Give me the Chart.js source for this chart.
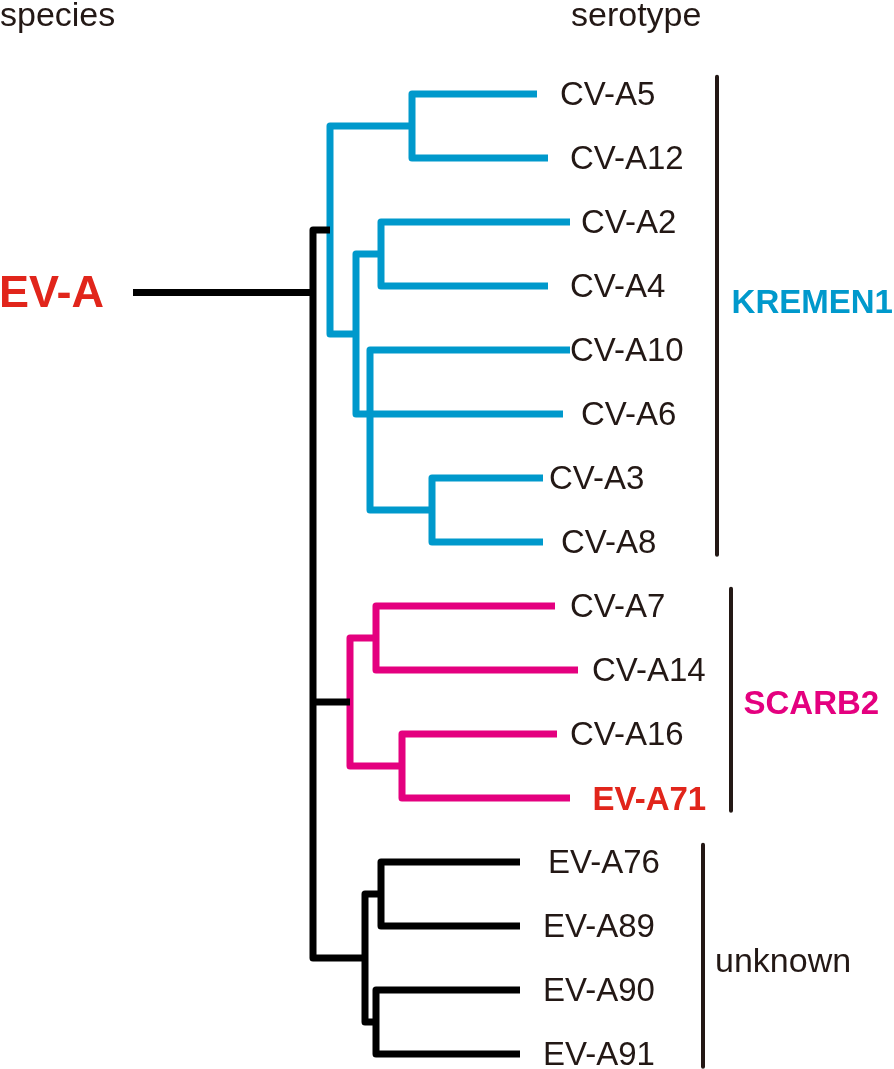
<!DOCTYPE html>
<html>
<head>
<meta charset="utf-8">
<script src="https://cdn.jsdelivr.net/npm/chart.js@4.4.1/dist/chart.umd.min.js"></script>
<style>
html, body { margin: 0; padding: 0; background: #fff; }
#wrap { width: 894px; height: 1069px; position: relative; }
</style>
</head>
<body>
<div id="wrap"><canvas id="tree"></canvas></div>
<script>
// serotypes, top to bottom (row = index)
const leaves = ['CV-A5', 'CV-A12', 'CV-A2', 'CV-A4', 'CV-A10', 'CV-A6', 'CV-A3', 'CV-A8',
                'CV-A7', 'CV-A14', 'CV-A16', 'EV-A71',
                'EV-A76', 'EV-A89', 'EV-A90', 'EV-A91'];
// tip distance from the EV-A root node
const tipDepth = [0.224, 0.235, 0.257, 0.235, 0.257, 0.250, 0.230, 0.230,
                  0.242, 0.265, 0.244, 0.257,
                  0.207, 0.207, 0.207, 0.207];

// internal nodes
const nodeNames = ['root', 'K', 'Ka', 'Kb', 'Kc', 'Kd', 'Ke', 'S', 'Sa', 'Sb', 'U', 'Ua', 'Ub'];
const nodeDepth = [0, 0.017, 0.099, 0.043, 0.068, 0.057, 0.119, 0.037, 0.063, 0.089, 0.052, 0.068, 0.063];
const nodeChildren = [
    ['K', 'S', 'U'],
    ['Ka', 'Kb'],
    ['CV-A5', 'CV-A12'],
    ['Kc', 'Kd'],
    ['CV-A2', 'CV-A4'],
    ['CV-A10', 'CV-A6', 'Ke'],
    ['CV-A3', 'CV-A8'],
    ['Sa', 'Sb'],
    ['CV-A7', 'CV-A14'],
    ['CV-A16', 'EV-A71'],
    ['Ua', 'Ub'],
    ['EV-A76', 'EV-A89'],
    ['EV-A90', 'EV-A91']
];
const stemDepth = -0.180;   // start of the EV-A stem

// receptor groups
const groups = ['KREMEN1', 'SCARB2', 'unknown'];
const groupFirst = [0, 8, 12];
const groupLast = [7, 11, 15];

// ---- layout / styles ----
const BLUE = '#0099cc', PINK = '#e4007f', RED = '#e1251b', INK = '#231815';
const branchColour = {r: '#000', K: BLUE, S: PINK, U: '#000'};
const stemRow = 3.1;
const labelGap = [23, 22, 11, 22, 0, 18, 6, 18, 15, 14, 13, 22.5, 28, 23, 23, 23];
const barDepth = [0.404, 0.418, 0.390];
const groupLabelGap = [14.6, 12.5, 12];
const groupLabelRow = [3.42, 9.69, 13.72];
const groupFont = ['bold 33px "Liberation Sans", Arial, sans-serif',
                   'bold 33px "Liberation Sans", Arial, sans-serif',
                   '34px "Liberation Sans", Arial, sans-serif'];
const groupColour = [BLUE, PINK, INK];
const FONT = '"Liberation Sans", Arial, sans-serif';
const BRANCH_W = 7;

//work out where every node sits
const pos = {};
leaves.forEach((n, i) => { pos[n] = {x: tipDepth[i], y: i}; });
function place(name) {
    if(pos[name]) return pos[name];
    const k = nodeNames.indexOf(name);
    const kids = nodeChildren[k].map(place);
    let y;
    if(name === 'root') {
        y = stemRow;
    } else if(kids.length === 2) {
        y = (kids[0].y + kids[1].y) / 2;
    } else {
        // polytomy: parent joins at the middle child
        y = kids[Math.floor(kids.length / 2)].y;
    }
    pos[name] = {x: nodeDepth[k], y: y};
    return pos[name];
}
place('root');

function lineSet(points, colour, width) {
    return {
        data: points,
        showLine: true,
        borderColor: colour,
        borderWidth: width,
        borderJoinStyle: 'round',
        borderCapStyle: 'butt',
        pointRadius: 0,
        pointHoverRadius: 0,
        fill: false
    };
}

const datasets = [];
nodeNames.forEach((name, k) => {
    const p = pos[name];
    const kids = nodeChildren[k].map(c => pos[c]);
    const col = branchColour[name[0]];
    const first = kids[0], last = kids[kids.length - 1];
    datasets.push(lineSet([
        {x: first.x, y: first.y}, {x: p.x, y: first.y},
        {x: p.x, y: last.y}, {x: last.x, y: last.y}
    ], col, BRANCH_W));
    for(let j = 1; j < kids.length - 1; ++j) {
        datasets.push(lineSet([{x: p.x, y: kids[j].y}, {x: kids[j].x, y: kids[j].y}], col, BRANCH_W));
    }
});
// EV-A stem
datasets.push(lineSet([{x: stemDepth, y: stemRow}, {x: pos.root.x, y: stemRow}], '#000', BRANCH_W));
// group bars
groups.forEach((g, i) => {
    datasets.push(lineSet([{x: barDepth[i], y: groupFirst[i] - 0.27},
                           {x: barDepth[i], y: groupLast[i] + 0.2}], INK, 4));
});

const textPlugin = {
    id: 'treeText',
    afterDraw(chart) {
        const ctx = chart.ctx, xs = chart.scales.x, ys = chart.scales.y;
        ctx.save();
        ctx.textBaseline = 'alphabetic';
        ctx.textAlign = 'left';

        ctx.fillStyle = INK;
        ctx.font = '34px ' + FONT;
        ctx.fillText('species', 0, 26);
        ctx.fillText('serotype', 571, 26);

        ctx.fillStyle = RED;
        ctx.font = 'bold 45px ' + FONT;
        ctx.fillText('EV-A', -1, ys.getPixelForValue(stemRow) + 15);

        leaves.forEach((n, i) => {
            const bold = n === 'EV-A71';
            ctx.fillStyle = bold ? RED : INK;
            ctx.font = (bold ? 'bold ' : '') + '33px ' + FONT;
            const x = xs.getPixelForValue(tipDepth[i]) + labelGap[i];
            const y = ys.getPixelForValue(i) + (bold ? 12 : 10.5);
            ctx.fillText(n, x, y);
        });

        groups.forEach((g, i) => {
            ctx.fillStyle = groupColour[i];
            ctx.font = groupFont[i];
            ctx.fillText(g, xs.getPixelForValue(barDepth[i]) + groupLabelGap[i],
                         ys.getPixelForValue(groupLabelRow[i]));
        });
        ctx.restore();
    }
};

new Chart(document.getElementById('tree'), {
    type: 'scatter',
    data: {datasets: datasets},
    options: {
        responsive: true,
        maintainAspectRatio: false,
        animation: false,
        layout: {padding: 0},
        plugins: {legend: {display: false}, tooltip: {enabled: false}},
        events: [],
        scales: {
            x: {type: 'linear', min: -0.313, max: 0.581, display: false},
            y: {type: 'linear', min: -94 / 64, max: (1069 - 94) / 64, reverse: true, display: false}
        }
    },
    plugins: [textPlugin]
});
</script>
</body>
</html>
